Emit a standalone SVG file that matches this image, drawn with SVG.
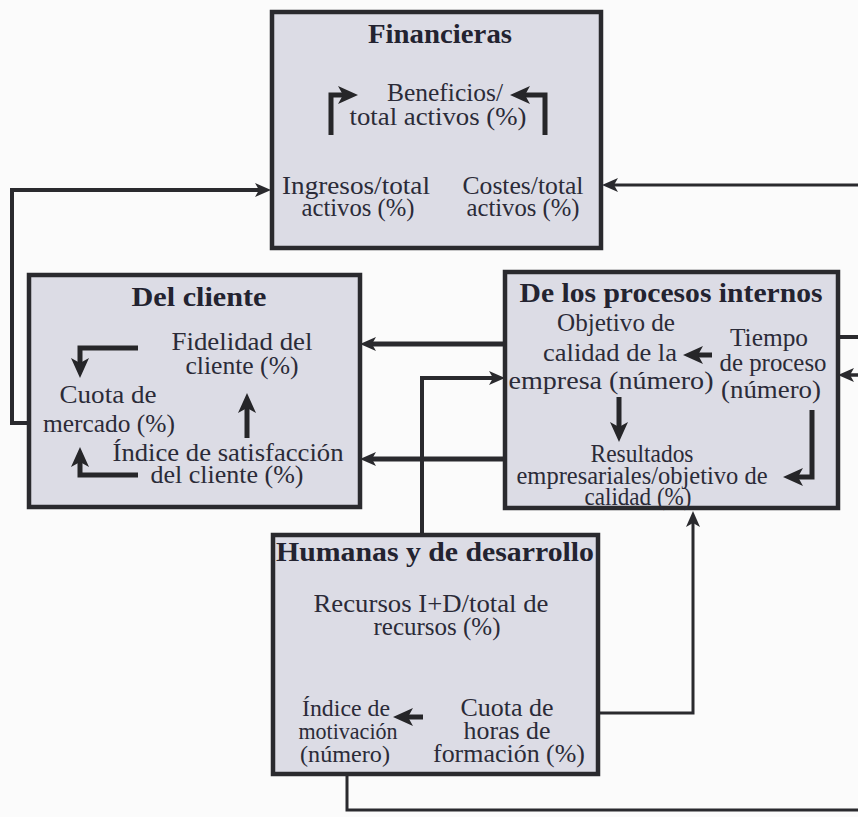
<svg xmlns="http://www.w3.org/2000/svg" width="858" height="817" viewBox="0 0 858 817">
<defs>
<style>
.box{fill:#dcdce5;stroke:#2a2a2e;stroke-width:4.5}
.t{font-family:"Liberation Serif","Times New Roman",serif;font-size:24.5px;fill:#2b2b38;text-anchor:middle}
.s{font-size:23.5px}
.h{font-family:"Liberation Serif","Times New Roman",serif;font-size:27px;font-weight:bold;fill:#232330;text-anchor:middle}
.c{fill:none;stroke:#2a2a2e;stroke-linejoin:miter}
.ia{fill:none;stroke:#262629;stroke-width:5;stroke-linejoin:miter;marker-end:url(#a2)}
</style>
<marker id="a1" viewBox="0 0 16 14" refX="4" refY="7" markerWidth="16" markerHeight="14" markerUnits="userSpaceOnUse" orient="auto">
<path d="M0,0 L16,7 L0,14 L4,7 Z" fill="#2a2a2e"/>
</marker>
<marker id="a2" viewBox="0 0 20 18" refX="5" refY="9" markerWidth="20" markerHeight="18" markerUnits="userSpaceOnUse" orient="auto">
<path d="M0,0 L20,9 L0,18 L5,9 Z" fill="#262629"/>
</marker>
</defs>
<rect x="0" y="0" width="858" height="817" fill="#fbfbfb"/>

<g id="connectors">
<path class="c" style="stroke-width:4;marker-end:url(#a1)" d="M29 423 H12 V190 H259"/>
<path class="c" style="stroke-width:3;marker-end:url(#a1)" d="M858 185 H614"/>
<path class="c" style="stroke-width:4" d="M838 337 H858"/>
<path class="c" style="stroke-width:3.5;marker-end:url(#a1)" d="M858 375 H850"/>
<path class="c" style="stroke-width:5;marker-end:url(#a1)" d="M505 344 H372"/>
<path class="c" style="stroke-width:5;marker-end:url(#a1)" d="M505 459 H372"/>
<path class="c" style="stroke-width:4;marker-end:url(#a1)" d="M422 535 V378 H493"/>
<path class="c" style="stroke-width:3;marker-end:url(#a1)" d="M598 713 H693 V523"/>
<path class="c" style="stroke-width:3" d="M347 774 V810 H858"/>
</g>

<g id="financieras">
<rect class="box" x="272" y="12" width="329" height="236"/>
<text class="h" x="440" y="43" textLength="144" lengthAdjust="spacingAndGlyphs">Financieras</text>
<text class="t" x="445" y="101" textLength="116" lengthAdjust="spacingAndGlyphs">Beneficios/</text>
<text class="t" x="438" y="125" textLength="177" lengthAdjust="spacingAndGlyphs">total activos (%)</text>
<text class="t" x="356" y="194" textLength="148" lengthAdjust="spacingAndGlyphs">Ingresos/total</text>
<text class="t" x="358" y="216" textLength="113" lengthAdjust="spacingAndGlyphs">activos (%)</text>
<text class="t" x="523" y="194" textLength="121" lengthAdjust="spacingAndGlyphs">Costes/total</text>
<text class="t" x="523" y="216" textLength="113" lengthAdjust="spacingAndGlyphs">activos (%)</text>
<path class="ia" d="M331 135 V95 H343"/>
<path class="ia" d="M545 135 V95 H525"/>
</g>

<g id="cliente">
<rect class="box" x="29" y="275" width="331" height="232"/>
<text class="h" x="199" y="306" textLength="135" lengthAdjust="spacingAndGlyphs">Del cliente</text>
<text class="t" x="242" y="350" textLength="141" lengthAdjust="spacingAndGlyphs">Fidelidad del</text>
<text class="t" x="242" y="374" textLength="113" lengthAdjust="spacingAndGlyphs">cliente (%)</text>
<text class="t" x="108" y="403" textLength="97" lengthAdjust="spacingAndGlyphs">Cuota de</text>
<text class="t" x="109" y="432" textLength="132" lengthAdjust="spacingAndGlyphs">mercado (%)</text>
<text class="t" x="228" y="461" textLength="231" lengthAdjust="spacingAndGlyphs">Índice de satisfacción</text>
<text class="t" x="227" y="483" textLength="153" lengthAdjust="spacingAndGlyphs">del cliente (%)</text>
<path class="ia" d="M138 348 H80 V363"/>
<path class="ia" d="M247 438 V408"/>
<path class="ia" d="M138 475 H80 V462"/>
</g>

<g id="procesos">
<rect class="box" x="505" y="272" width="333" height="236"/>
<text class="h" x="671" y="302" textLength="303" lengthAdjust="spacingAndGlyphs">De los procesos internos</text>
<text class="t" x="616" y="331" textLength="118" lengthAdjust="spacingAndGlyphs">Objetivo de</text>
<text class="t" x="610" y="361" textLength="134" lengthAdjust="spacingAndGlyphs">calidad de la</text>
<text class="t" x="611" y="389" textLength="205" lengthAdjust="spacingAndGlyphs">empresa (número)</text>
<text class="t" x="769" y="346" textLength="78" lengthAdjust="spacingAndGlyphs">Tiempo</text>
<text class="t" x="773" y="371" textLength="107" lengthAdjust="spacingAndGlyphs">de proceso</text>
<text class="t" x="771" y="398" textLength="100" lengthAdjust="spacingAndGlyphs">(número)</text>
<text class="t" x="642" y="462" textLength="103" lengthAdjust="spacingAndGlyphs">Resultados</text>
<text class="t" x="642" y="484" textLength="251" lengthAdjust="spacingAndGlyphs">empresariales/objetivo de</text>
<text class="t" x="638" y="505" textLength="107" lengthAdjust="spacingAndGlyphs">calidad (%)</text>
<path class="ia" d="M712 355 H698"/>
<path class="ia" d="M619 397 V427"/>
<path class="ia" d="M812 410 V477 H798"/>
</g>

<g id="humanas">
<rect class="box" x="273" y="535" width="325" height="239"/>
<text class="h" x="435" y="561" textLength="318" lengthAdjust="spacingAndGlyphs">Humanas y de desarrollo</text>
<text class="t" x="431" y="612" textLength="235" lengthAdjust="spacingAndGlyphs">Recursos I+D/total de</text>
<text class="t" x="437" y="635" textLength="127" lengthAdjust="spacingAndGlyphs">recursos (%)</text>
<text class="t s" x="346" y="716" textLength="88" lengthAdjust="spacingAndGlyphs">Índice de</text>
<text class="t s" x="348" y="739" textLength="99" lengthAdjust="spacingAndGlyphs">motivación</text>
<text class="t s" x="345" y="762" textLength="90" lengthAdjust="spacingAndGlyphs">(número)</text>
<text class="t" x="507" y="716" textLength="93" lengthAdjust="spacingAndGlyphs">Cuota de</text>
<text class="t" x="507" y="739" textLength="87" lengthAdjust="spacingAndGlyphs">horas de</text>
<text class="t" x="509" y="762" textLength="152" lengthAdjust="spacingAndGlyphs">formación (%)</text>
<path class="ia" d="M423 717 H408"/>
</g>
</svg>
